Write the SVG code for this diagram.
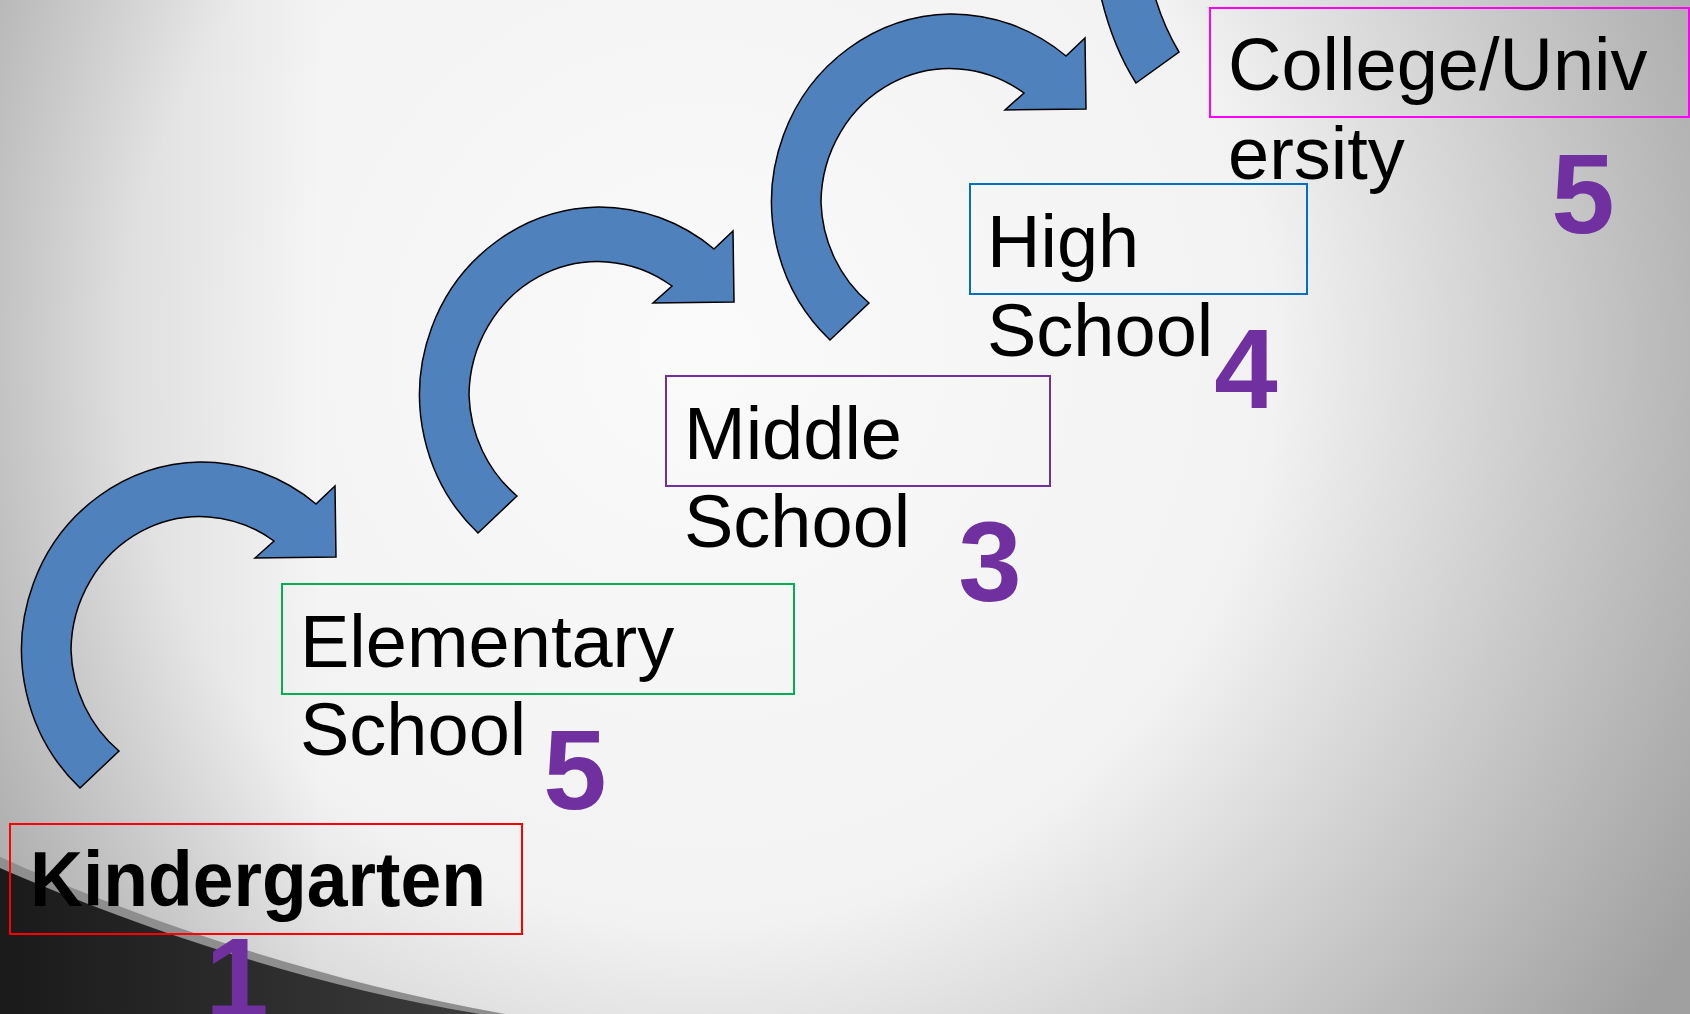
<svg xmlns="http://www.w3.org/2000/svg" width="1690" height="1014" viewBox="0 0 1690 1014">
<defs>
<radialGradient id="bg" gradientUnits="userSpaceOnUse" cx="700" cy="350" r="1150">
<stop offset="0" stop-color="#fafafa"/>
<stop offset="0.5" stop-color="#f2f2f2"/>
<stop offset="1" stop-color="#a0a0a0"/>
</radialGradient>
<linearGradient id="leftshade" gradientUnits="userSpaceOnUse" x1="0" y1="0" x2="320" y2="0">
<stop offset="0" stop-color="#000" stop-opacity="0.13"/>
<stop offset="1" stop-color="#000" stop-opacity="0"/>
</linearGradient>
<linearGradient id="dark" gradientUnits="userSpaceOnUse" x1="0" y1="0" x2="480" y2="0">
<stop offset="0" stop-color="#1a1a1a"/>
<stop offset="1" stop-color="#3c3c3c"/>
</linearGradient>
<path id="arrow" d="M80,788 A182,188 0 0 1 200,462 A182,188 0 0 1 316,504 L335,486 L336,557 L255,558 L274,541 A129,135 0 0 0 71,650 A129,135 0 0 0 119,751 Z"/>
</defs>
<style>
.arr { fill: #4F81BD; stroke: #000; stroke-width: 1.5; stroke-linejoin: miter; }
.box { fill: none; stroke-width: 2; }
.lbl { font-family: "Liberation Sans", Arial, sans-serif; font-size: 74px; fill: #000; }
.kg { font-family: "Liberation Sans", Arial, sans-serif; font-weight: bold; font-size: 78px; fill: #000; }
.num { font-family: "Liberation Sans", Arial, sans-serif; font-weight: bold; font-size: 114px; fill: #7030A0; text-anchor: middle; }
</style>
<rect x="0" y="0" width="1690" height="1014" fill="url(#bg)"/>
<rect x="0" y="0" width="320" height="1014" fill="url(#leftshade)"/>
<path d="M0,857 C120,911 300,977 505,1014 L0,1014 Z" fill="#8e8e8e"/>
<path d="M0,868 C120,920 300,985 480,1014 L0,1014 Z" fill="url(#dark)"/>

<g id="connectors">
<use href="#arrow" class="arr"/>
<use href="#arrow" class="arr" transform="translate(398,-255)"/>
<use href="#arrow" class="arr" transform="translate(750,-448)"/>
<path class="arr" d="M1101,-3 Q1113,47 1136,83 L1179,52 Q1164,27 1155,-3 Z"/>
</g>

<g id="kindergarten">
<rect class="box" x="10" y="824" width="512" height="110" stroke="#FF0000"/>
<text class="kg" x="30" y="906" textLength="456" lengthAdjust="spacingAndGlyphs">Kindergarten</text>
<text class="num" x="237" y="1017">1</text>
</g>

<g id="elementary">
<rect class="box" x="282" y="584" width="512" height="110" stroke="#00B050"/>
<text class="lbl" x="300" y="667">Elementary</text>
<text class="lbl" x="300" y="755">School</text>
<text class="num" x="575" y="809">5</text>
</g>

<g id="middle">
<rect class="box" x="666" y="376" width="384" height="110" stroke="#7030A0"/>
<text class="lbl" x="684" y="459">Middle</text>
<text class="lbl" x="684" y="547">School</text>
<text class="num" x="990" y="601">3</text>
</g>

<g id="high">
<rect class="box" x="970" y="184" width="337" height="110" stroke="#0070C0"/>
<text class="lbl" x="987" y="267">High</text>
<text class="lbl" x="987" y="356">School</text>
<text class="num" x="1246" y="408">4</text>
</g>

<g id="college">
<rect class="box" x="1210" y="8" width="479" height="109" stroke="#FF00FF"/>
<text class="lbl" x="1228" y="90">College/Univ</text>
<text class="lbl" x="1228" y="179">ersity</text>
<text class="num" x="1583" y="233">5</text>
</g>
</svg>
